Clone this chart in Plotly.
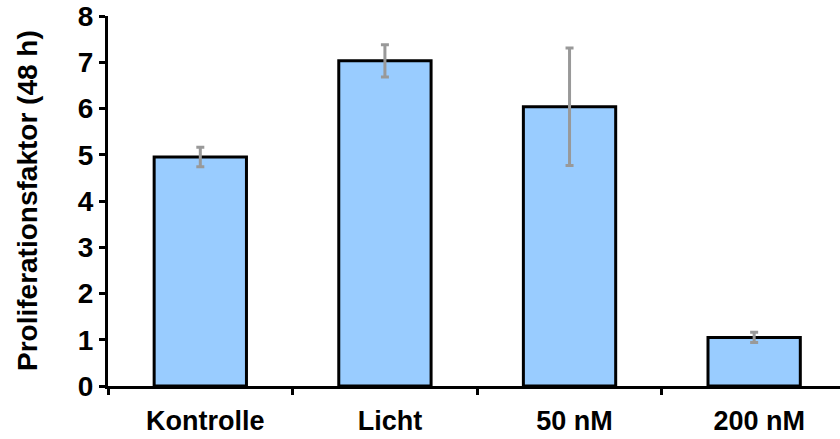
import plotly.graph_objects as go

categories = ["Kontrolle", "Licht", "50 nM", "200 nM"]
values = [4.95, 7.03, 6.04, 1.05]
errors = [0.21, 0.35, 1.27, 0.11]
y_ticks = [0, 1, 2, 3, 4, 5, 6, 7, 8]

FONT = "Liberation Sans, Arial, Helvetica, sans-serif"

fig = go.Figure()
fig.add_trace(go.Bar(
    x=categories, y=values,
    width=0.5,
    marker=dict(color="#99CCFF", line=dict(color="black", width=3)),
    error_y=dict(type="data", array=errors, visible=True,
                 color="#999999", thickness=3, width=4),
))

fig.update_layout(
    width=840, height=439,
    margin=dict(l=108, r=0, t=16, b=53),
    plot_bgcolor="white", paper_bgcolor="white",
    showlegend=False,
    font=dict(family=FONT, size=28, color="black", weight="bold"),
    xaxis=dict(
        type="category",
        range=[-0.5, 3.465],
        tickson="boundaries",
        automargin=False,
        ticks="outside", ticklen=6, tickwidth=3, tickcolor="black",
        showline=True, linecolor="black", linewidth=3,
        showgrid=False, zeroline=False,
        tickfont=dict(family=FONT, size=27, color="black", weight="bold"),
        ticklabelstandoff=9,
        ticklabelshift=5,
    ),
    yaxis=dict(
        range=[0, 8],
        tickvals=y_ticks,
        automargin=False,
        ticks="outside", ticklen=6, tickwidth=3, tickcolor="black",
        showline=True, linecolor="black", linewidth=3,
        showgrid=False, zeroline=False,
        tickfont=dict(family=FONT, size=28, color="black", weight="bold"),
    ),
    annotations=[dict(
        text="Proliferationsfaktor (48 h)",
        textangle=-90,
        xref="paper", yref="paper",
        x=0, y=0.5, xanchor="center", yanchor="middle",
        xshift=-81,
        showarrow=False,
        font=dict(family=FONT, size=28, color="black", weight="bold"),
    )],
)

fig.write_html("out.html")
